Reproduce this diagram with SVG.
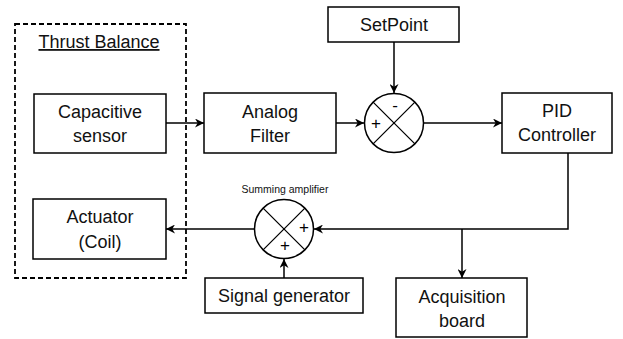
<svg xmlns="http://www.w3.org/2000/svg" width="623" height="339" viewBox="0 0 623 339">
<style>
.box{fill:#fff;stroke:#000;stroke-width:1.5}
.t{font-family:"Liberation Sans",Arial,sans-serif;font-size:18px;fill:#111;text-anchor:middle}
.c{fill:#fff;stroke:#000;stroke-width:1.5}
.x{stroke:#000;stroke-width:1.3;fill:none}
.sign{font-family:"Liberation Sans",Arial,sans-serif;font-size:17px;fill:#000;text-anchor:middle}
.ln{stroke:#000;stroke-width:1.5;fill:none}
</style>
<defs>
<marker id="ah" viewBox="0 0 10 10" refX="10" refY="5" markerWidth="9" markerHeight="9" markerUnits="userSpaceOnUse" orient="auto">
<path d="M0,0 L10,5 L0,10 L3,5 z" fill="#000"/>
</marker>
</defs>
<rect width="623" height="339" fill="#fff"/>
<g id="thrust-balance">
<rect x="15" y="24" width="171" height="254" fill="none" stroke="#000" stroke-width="1.8" stroke-dasharray="5,3"/>
<text x="99" y="48" class="t" text-decoration="underline">Thrust Balance</text>
</g>
<g id="capacitive-sensor">
<rect class="box" x="34" y="94" width="132" height="59"/>
<text class="t" x="100" y="118">Capacitive</text>
<text class="t" x="100" y="142">sensor</text>
</g>
<g id="analog-filter">
<rect class="box" x="204" y="93" width="132" height="60"/>
<text class="t" x="270" y="118">Analog</text>
<text class="t" x="270" y="142">Filter</text>
</g>
<g id="setpoint">
<rect class="box" x="328" y="7" width="131" height="35"/>
<text class="t" x="394" y="31">SetPoint</text>
</g>
<g id="sum1">
<circle class="c" cx="394" cy="123" r="29.5"/>
<path class="x" d="M373.1,102.1 L414.9,143.9 M414.9,102.1 L373.1,143.9"/>
<text class="sign" x="395" y="111">-</text>
<text class="sign" x="376" y="129">+</text>
</g>
<g id="pid-controller">
<rect class="box" x="502" y="93" width="110" height="60"/>
<text class="t" x="557" y="117">PID</text>
<text class="t" x="557" y="141">Controller</text>
</g>
<g id="acquisition-board">
<rect class="box" x="396" y="278" width="131" height="59"/>
<text class="t" x="462" y="303">Acquisition</text>
<text class="t" x="462" y="327">board</text>
</g>
<g id="sum2">
<text x="285" y="193" font-family="'Liberation Sans',Arial,sans-serif" font-size="10.5" fill="#111" text-anchor="middle">Summing amplifier</text>
<circle class="c" cx="284" cy="229" r="29.5"/>
<path class="x" d="M263.1,208.1 L304.9,249.9 M304.9,208.1 L263.1,249.9"/>
<text class="sign" x="304" y="233">+</text>
<text class="sign" x="285" y="251">+</text>
</g>
<g id="signal-generator">
<rect class="box" x="205" y="278" width="158" height="35"/>
<text class="t" x="284" y="302">Signal generator</text>
</g>
<g id="actuator">
<rect class="box" x="33" y="199" width="133" height="60"/>
<text class="t" x="100" y="223">Actuator</text>
<text class="t" x="100" y="248">(Coil)</text>
</g>
<g id="connectors">
<path class="ln" d="M166,123 L204,123" marker-end="url(#ah)"/>
<path class="ln" d="M336,123 L364,123" marker-end="url(#ah)"/>
<path class="ln" d="M394,42 L394,93" marker-end="url(#ah)"/>
<path class="ln" d="M424,123 L502,123" marker-end="url(#ah)"/>
<path class="ln" d="M568,153 L568,229 L314,229" marker-end="url(#ah)"/>
<path class="ln" d="M462,229 L462,278" marker-end="url(#ah)"/>
<path class="ln" d="M284,278 L284,259" marker-end="url(#ah)"/>
<path class="ln" d="M254,229 L166,229" marker-end="url(#ah)"/>
</g>
</svg>
